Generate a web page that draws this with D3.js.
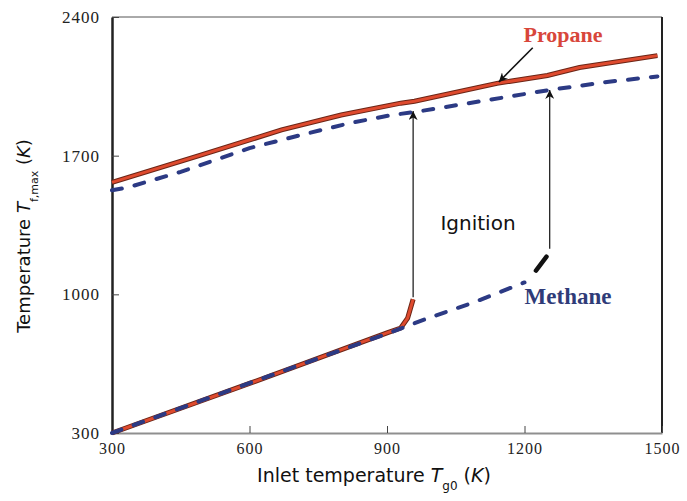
<!DOCTYPE html>
<html>
<head>
<meta charset="utf-8">
<script src="https://cdn.jsdelivr.net/npm/d3@7"></script>
<style>
  body { margin: 0; background: #fff; }
  svg { display: block; }
</style>
</head>
<body>
<svg width="687" height="501"></svg>
<script>
// tick values
const xTicks = [300, 600, 900, 1200, 1500];
const yTicks = [300, 1000, 1700, 2400];

// [inlet T_g0, T_f,max]
const propaneUpper = [[300, 1565], [490, 1700], [670, 1830], [800, 1905], [930, 1965],
  [960, 1975], [1140, 2065], [1250, 2105], [1320, 2145], [1490, 2205]];
const methaneUpper = [[300, 1525], [335, 1540], [450, 1618], [600, 1738], [710, 1803],
  [820, 1865], [910, 1905], [960, 1920], [1250, 2030], [1380, 2072], [1490, 2100]];
const propaneLower = [[300, 300], [600, 550], [900, 805], [930, 830], [945, 880], [957, 975]];
const methaneLower = [[300, 300], [600, 552], [910, 810], [990, 880], [1090, 960],
  [1200, 1060], [1225, 1120], [1248, 1190]];

// ignition jumps
const ignition = [
  { fuel: 'Propane', x: 957, from: 985, to: 1925 },
  { fuel: 'Methane', x: 1255, from: 1230, to: 2032 },
];
const propanePointer = [[1218, 2245], [1144, 2072]];

const red = '#de4a2e', redEdge = '#6b2516', blue = '#2c3a84';
const sans = 'DejaVu Sans, sans-serif', serif = 'Liberation Serif, serif';

const svg = d3.select('svg');
const x = d3.scaleLinear().domain([300, 1500]).range([112, 662]);
const y = d3.scaleLinear().domain([300, 2400]).range([433, 17]);
const line = d3.line().x(d => x(d[0])).y(d => y(d[1]));

svg.append('defs').append('marker')
  .attr('id', 'head')
  .attr('viewBox', '0 0 10 10')
  .attr('refX', 10).attr('refY', 5)
  .attr('markerWidth', 9).attr('markerHeight', 9)
  .attr('markerUnits', 'userSpaceOnUse')
  .attr('orient', 'auto')
  .append('path')
  .attr('d', 'M0,0 L10,5 L0,10 L3,5 Z')
  .attr('fill', '#111');

// frame
svg.append('line')
  .attr('x1', x(300)).attr('x2', x(1500)).attr('y1', y(2400)).attr('y2', y(2400))
  .attr('stroke', '#555').attr('stroke-width', 1);
svg.append('line')
  .attr('x1', x(1500)).attr('x2', x(1500)).attr('y1', y(2400)).attr('y2', y(300))
  .attr('stroke', '#222').attr('stroke-width', 2);

const xAxis = svg.append('g')
  .attr('transform', 'translate(0,' + y(300) + ')')
  .call(d3.axisBottom(x).tickValues(xTicks).tickFormat(d3.format('d'))
    .tickSize(-7).tickPadding(10).tickSizeOuter(0));
xAxis.select('.domain').attr('stroke', '#8f8f8f').attr('stroke-width', 2);
xAxis.selectAll('.tick line').attr('stroke', '#444');
xAxis.selectAll('.tick text')
  .attr('font-family', serif).attr('font-size', 16).attr('letter-spacing', 1).attr('fill', '#222');

const yAxis = svg.append('g')
  .attr('transform', 'translate(' + x(300) + ',0)')
  .call(d3.axisLeft(y).tickValues(yTicks).tickFormat(d3.format('d'))
    .tickSize(-7).tickPadding(12).tickSizeOuter(0));
yAxis.select('.domain').attr('stroke', '#222').attr('stroke-width', 2.5);
yAxis.selectAll('.tick line').attr('stroke', '#444');
yAxis.selectAll('.tick text')
  .attr('font-family', serif).attr('font-size', 17).attr('letter-spacing', 1).attr('fill', '#222');

// curves
function solidRed(data) {
  svg.append('path').datum(data).attr('d', line)
    .attr('fill', 'none').attr('stroke', redEdge).attr('stroke-width', 5);
  svg.append('path').datum(data).attr('d', line)
    .attr('fill', 'none').attr('stroke', red).attr('stroke-width', 3);
}
function dashedBlue(data) {
  svg.append('path').datum(data).attr('d', line)
    .attr('fill', 'none').attr('stroke', blue).attr('stroke-width', 4)
    .attr('stroke-linecap', 'round').attr('stroke-dasharray', '10,13');
}
solidRed(propaneUpper);
dashedBlue(methaneUpper);
solidRed(propaneLower);
dashedBlue(methaneLower.slice(0, 6));
svg.append('path').datum(methaneLower.slice(6)).attr('d', line)
  .attr('fill', 'none').attr('stroke', '#111').attr('stroke-width', 4.5)
  .attr('stroke-linecap', 'round');

// ignition arrows
svg.selectAll('.jump').data(ignition).join('line')
  .attr('class', 'jump')
  .attr('x1', d => x(d.x)).attr('x2', d => x(d.x))
  .attr('y1', d => y(d.from)).attr('y2', d => y(d.to))
  .attr('stroke', '#111').attr('stroke-width', 1.2)
  .attr('marker-end', 'url(#head)');

svg.append('line')
  .attr('x1', x(propanePointer[0][0])).attr('y1', y(propanePointer[0][1]))
  .attr('x2', x(propanePointer[1][0])).attr('y2', y(propanePointer[1][1]))
  .attr('stroke', '#111').attr('stroke-width', 1.6)
  .attr('marker-end', 'url(#head)');

// labels
svg.append('text').attr('x', 563).attr('y', 42)
  .attr('text-anchor', 'middle').attr('font-family', serif)
  .attr('font-weight', 'bold').attr('font-size', 22).attr('fill', '#d8463a')
  .text('Propane');
svg.append('text').attr('x', 568).attr('y', 304)
  .attr('text-anchor', 'middle').attr('font-family', serif)
  .attr('font-weight', 'bold').attr('font-size', 23).attr('fill', '#2f3b78')
  .text('Methane');
svg.append('text').attr('x', 478).attr('y', 230)
  .attr('text-anchor', 'middle').attr('font-family', sans)
  .attr('font-size', 20).attr('fill', '#111')
  .text('Ignition');

// axis titles
const xt = svg.append('text').attr('x', 374).attr('y', 482)
  .attr('text-anchor', 'middle').attr('font-family', sans)
  .attr('font-size', 19).attr('fill', '#111');
xt.append('tspan').text('Inlet temperature ');
xt.append('tspan').attr('font-style', 'italic').text('T');
xt.append('tspan').attr('font-size', 12).attr('dy', 8).text('g0');
xt.append('tspan').attr('dy', -8).text(' (');
xt.append('tspan').attr('font-style', 'italic').text('K');
xt.append('tspan').text(')');

const yt = svg.append('text')
  .attr('transform', 'translate(30,236) rotate(-90)')
  .attr('text-anchor', 'middle').attr('font-family', sans)
  .attr('font-size', 18).attr('fill', '#111');
yt.append('tspan').text('Temperature ');
yt.append('tspan').attr('font-style', 'italic').text('T');
yt.append('tspan').attr('font-size', 11).attr('dy', 8).text('f,max');
yt.append('tspan').attr('dy', -8).text(' (');
yt.append('tspan').attr('font-style', 'italic').text('K');
yt.append('tspan').text(')');
</script>
</body>
</html>
